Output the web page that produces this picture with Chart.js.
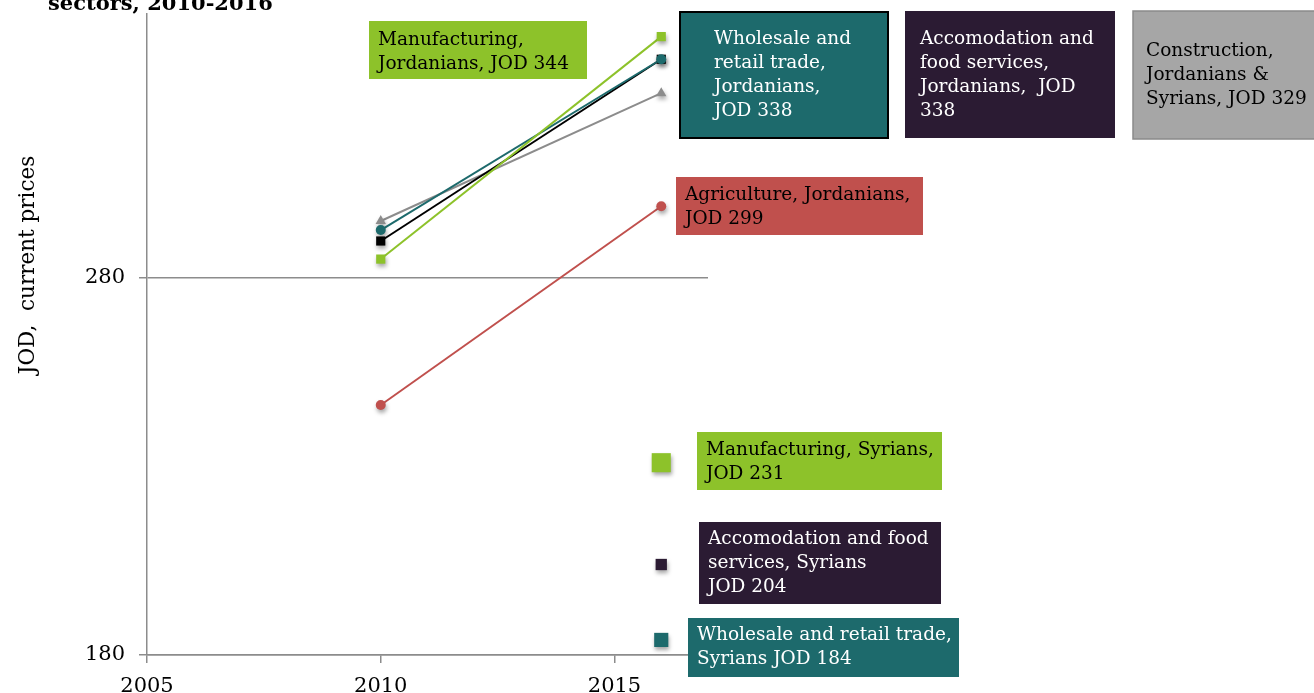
<!DOCTYPE html>
<html>
<head>
<meta charset="utf-8">
<script src="https://cdn.jsdelivr.net/npm/chart.js@4/dist/chart.umd.min.js"></script>
<style>
  html, body { margin: 0; padding: 0; background: #fff; overflow: hidden; }
  #wrap { position: relative; width: 1314px; height: 693px; }
</style>
</head>
<body>
<div id="wrap"><canvas id="c" width="1314" height="693"></canvas></div>
<script>
// ---- data ----
const years = [2010, 2016];
const manufacturingJ = [285, 344];
const wholesaleJ = [292.7, 338];
const accommodationJ = [289.8, 338];
const constructionJ = [295.1, 329];
const agricultureJ = [246.3, 299];
const syrianYear = [2016];
const manufacturingS = [231];
const accommodationS = [204];
const wholesaleS = [184];
const xTicks = [2005, 2010, 2015];
const yTicks = [180, 280];

const FONT = '"DejaVu Serif", Georgia, serif';
const GREEN = '#8DC22A', TEAL = '#1D6A6C', PURPLE = '#2B1B33', GRAY = '#8C8C8C', RED = '#C0504D';

function pts(xs, ys) { return ys.map((v, i) => ({ x: xs[i], y: v })); }

// soft drop shadow under markers (as in the reference)
const origPointDraw = Chart.PointElement.prototype.draw;
Chart.PointElement.prototype.draw = function (ctx, area) {
  ctx.save();
  ctx.shadowColor = 'rgba(0,0,0,0.35)';
  ctx.shadowBlur = 4;
  ctx.shadowOffsetX = 1;
  ctx.shadowOffsetY = 3;
  origPointDraw.call(this, ctx, area);
  ctx.restore();
};

const callouts = [
  { x: 369, y: 21, w: 218, h: 58, fill: GREEN, color: '#000', tx: 378, ty: 40, lines: ['Manufacturing,', 'Jordanians, JOD 344'] },
  { x: 680, y: 12, w: 208, h: 126, fill: TEAL, border: '#000', bw: 2, color: '#fff', tx: 714, ty: 39, lines: ['Wholesale and', 'retail trade,', 'Jordanians,', 'JOD 338'] },
  { x: 905, y: 11, w: 210, h: 127, fill: PURPLE, color: '#fff', tx: 920, ty: 39, lines: ['Accomodation and', 'food services,', 'Jordanians,  JOD', '338'] },
  { x: 1133, y: 11, w: 185, h: 128, fill: '#A6A6A6', border: '#8A8A8A', bw: 1.5, color: '#000', tx: 1146, ty: 51, lines: ['Construction,', 'Jordanians &', 'Syrians, JOD 329'] },
  { x: 676, y: 177, w: 247, h: 58, fill: RED, color: '#000', tx: 685, ty: 195, lines: ['Agriculture, Jordanians,', 'JOD 299'] },
  { x: 697, y: 432, w: 245, h: 58, fill: GREEN, color: '#000', tx: 706, ty: 450, lines: ['Manufacturing, Syrians,', 'JOD 231'] },
  { x: 699, y: 522, w: 242, h: 82, fill: PURPLE, color: '#fff', tx: 708, ty: 539, lines: ['Accomodation and food', 'services, Syrians', 'JOD 204'] },
  { x: 688, y: 618, w: 271, h: 59, fill: TEAL, color: '#fff', tx: 697, ty: 635, lines: ['Wholesale and retail trade,', 'Syrians JOD 184'] }
];

const overlay = {
  id: 'overlay',
  afterDraw(chart) {
    const ctx = chart.ctx;
    ctx.save();
    // clipped title
    ctx.fillStyle = '#000';
    ctx.font = 'bold 21px ' + FONT;
    ctx.textBaseline = 'alphabetic';
    ctx.textAlign = 'left';
    ctx.fillText('sectors, 2010-2016', 48, 10);
    // y axis title
    ctx.save();
    ctx.translate(28, 265);
    ctx.rotate(-Math.PI / 2);
    ctx.textAlign = 'center';
    ctx.textBaseline = 'middle';
    ctx.font = '21.5px ' + FONT;
    ctx.fillText('JOD,  current prices', 0, 0);
    ctx.restore();
    // callout boxes
    callouts.forEach(b => {
      ctx.fillStyle = b.fill;
      ctx.fillRect(b.x, b.y, b.w, b.h);
      if (b.border) {
        ctx.strokeStyle = b.border;
        ctx.lineWidth = b.bw;
        ctx.strokeRect(b.x, b.y, b.w, b.h);
      }
      ctx.fillStyle = b.color;
      ctx.font = '18.5px ' + FONT;
      ctx.textAlign = 'left';
      ctx.textBaseline = 'middle';
      b.lines.forEach((t, i) => ctx.fillText(t, b.tx, b.ty + i * 24));
    });
    ctx.restore();
  }
};

function lineDs(label, data, color, style, r) {
  return {
    label, data: pts(years, data), borderColor: color, backgroundColor: color,
    borderWidth: 2, pointStyle: style, pointRadius: r, pointBorderWidth: 0,
    pointHoverRadius: r, tension: 0
  };
}
function pointDs(label, data, color, r) {
  return {
    label, data: pts(syrianYear, data), borderColor: color, backgroundColor: color,
    showLine: false, pointStyle: 'rect', pointRadius: r, pointBorderWidth: 0, pointHoverRadius: r
  };
}

new Chart(document.getElementById('c'), {
  type: 'line',
  data: {
    datasets: [
      lineDs('Manufacturing, Jordanians', manufacturingJ, GREEN, 'rect', 6.5),
      lineDs('Wholesale and retail trade, Jordanians', wholesaleJ, TEAL, 'circle', 5),
      lineDs('Accomodation and food services, Jordanians', accommodationJ, '#000', 'rect', 6.5),
      lineDs('Construction, Jordanians & Syrians', constructionJ, GRAY, 'triangle', 6),
      lineDs('Agriculture, Jordanians', agricultureJ, RED, 'circle', 5),
      pointDs('Manufacturing, Syrians', manufacturingS, GREEN, 13.5),
      pointDs('Accomodation and food services, Syrians', accommodationS, PURPLE, 8),
      pointDs('Wholesale and retail trade, Syrians', wholesaleS, TEAL, 10)
    ]
  },
  options: {
    responsive: false,
    animation: false,
    events: [],
    layout: { padding: { top: 14, right: 606, left: 0, bottom: 0 } },
    plugins: { legend: { display: false }, title: { display: false }, tooltip: { enabled: false } },
    scales: {
      x: {
        type: 'linear', min: 2005, max: 2017,
        afterBuildTicks(s) { s.ticks = xTicks.map(v => ({ value: v })); },
        afterFit(s) { s.height = 38; s.paddingLeft = 0; s.paddingRight = 0; },
        border: { color: '#8C8C8C', width: 1.5 },
        grid: { drawOnChartArea: false, drawTicks: true, tickLength: 8, color: '#8C8C8C', lineWidth: 1.5 },
        ticks: { color: '#000', font: { family: FONT, size: 21 }, padding: 11, maxRotation: 0, autoSkip: false,
                 callback: v => String(v) }
      },
      y: {
        type: 'linear', min: 180, max: 350,
        afterBuildTicks(s) { s.ticks = yTicks.map(v => ({ value: v })); },
        afterFit(s) { s.width = 147; s.paddingTop = 0; s.paddingBottom = 0; },
        border: { color: '#8C8C8C', width: 1.5 },
        grid: { drawOnChartArea: true, drawTicks: true, tickLength: 8, color: '#8C8C8C', lineWidth: 1.5 },
        ticks: { color: '#000', font: { family: FONT, size: 21 }, padding: 14, callback: v => String(v) }
      }
    }
  },
  plugins: [overlay]
});
</script>
</body>
</html>
